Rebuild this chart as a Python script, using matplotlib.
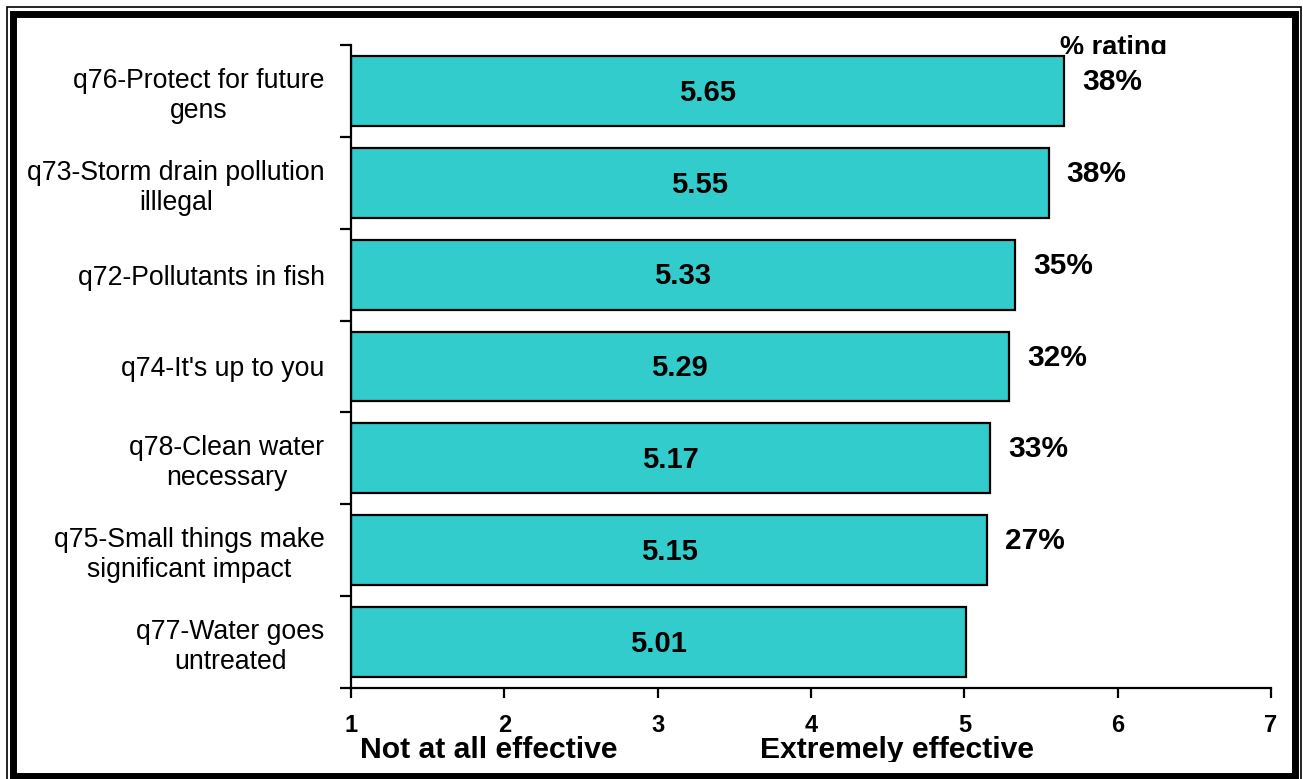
import numpy as np
import matplotlib
matplotlib.use("Agg")
import matplotlib.pyplot as plt
from matplotlib.patches import Rectangle
from matplotlib.transforms import Bbox

plt.rcParams['font.family'] = ['Liberation Sans', 'DejaVu Sans']

# data (top to bottom)
labels = ["q76-Protect for future\ngens",
          "q73-Storm drain pollution\nilllegal",
          "q72-Pollutants in fish",
          "q74-It's up to you",
          "q78-Clean water\nnecessary",
          "q75-Small things make\nsignificant impact",
          "q77-Water goes\nuntreated"]
means = [5.65, 5.55, 5.33, 5.29, 5.17, 5.15, 5.01]
pct_top = ["38%", "38%", "35%", "32%", "33%", "27%", ""]
xticks = [1, 2, 3, 4, 5, 6, 7]

W, H = 1303, 779
fig = plt.figure(figsize=(W / 100, H / 100), dpi=100)
ax = fig.add_axes([351 / W, 1 - 688 / H, (1271 - 351) / W, (688 - 45) / H])

y = np.arange(len(labels))
ax.barh(y, [m - 1 for m in means], left=1, height=0.76,
        color="#33CCCC", edgecolor="black", linewidth=1.6, zorder=2)

for yi, m in zip(y, means):
    ax.text((1 + m) / 2, yi + 0.02, f"{m:.2f}", ha="center", va="center",
            fontsize=21, fontweight="bold")

for yi, m, p in zip(y, means, pct_top):
    if p:
        ax.annotate(p, xy=(m, yi), xytext=(18, 9), textcoords="offset pixels",
                    ha="left", va="center", fontsize=21.5, fontweight="bold")

ax.set_xlim(1, 7)
ax.set_ylim(len(labels) - 0.5, -0.5)
ax.set_xticks(xticks)
ax.set_xticklabels([str(t) for t in xticks])
ax.tick_params(axis="x", direction="out", length=7, width=1.6, pad=12)
for lab in ax.get_xticklabels():
    lab.set_fontsize(17)
    lab.set_fontweight("bold")

ax.set_yticks(y)
ax.set_yticklabels(labels, multialignment="center")
ax.set_yticks(np.arange(-0.5, len(labels), 1), minor=True)
ax.tick_params(axis="y", which="major", length=0, pad=19, labelsize=19.2)
ax.tick_params(axis="y", which="minor", direction="out", length=8, width=1.6)

for s in ["top", "right"]:
    ax.spines[s].set_visible(False)
for s in ["left", "bottom"]:
    ax.spines[s].set_linewidth(1.6)

# axis end captions, clipped at the bottom like the original
clip = Bbox.from_extents(0, H - 762, W, H)
t1 = fig.text(360 / W, 1 - 750 / H, "Not at all effective", ha="left", va="center",
              fontsize=21.7, fontweight="bold")
t2 = fig.text(760 / W, 1 - 750 / H, "Extremely effective", ha="left", va="center",
              fontsize=21.7, fontweight="bold")
for t in (t1, t2):
    t.set_clip_box(clip)
    t.set_clip_on(True)

t3 = fig.text(1060 / W, 1 - 48 / H, "% rating", ha="left", va="center",
              fontsize=19.5, fontweight="bold")
t3.set_clip_box(Bbox.from_extents(0, H - 54, W, H))
t3.set_clip_on(True)

# double frame
fig.patches.append(Rectangle((6.5 / W, -0.02), (1301 - 6.5) / W, 1 - 6.5 / H + 0.02,
                             transform=fig.transFigure, fill=False,
                             edgecolor="black", linewidth=1.2))
fig.patches.append(Rectangle((13.5 / W, 1 - 776 / H), (1294.5 - 13.5) / W, (776 - 13.5) / H,
                             transform=fig.transFigure, fill=False,
                             edgecolor="black", linewidth=5))

fig.savefig("out.png", dpi=100)
